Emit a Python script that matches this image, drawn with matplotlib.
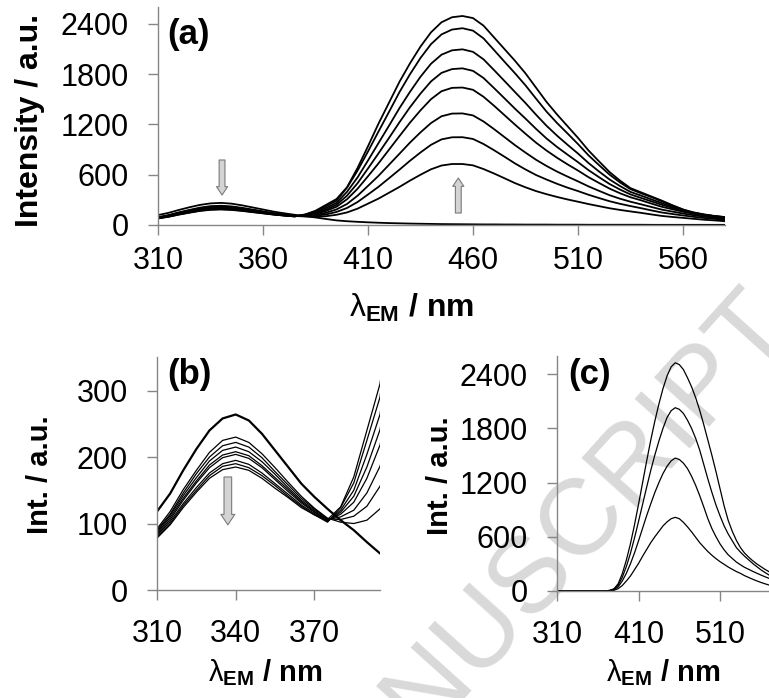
import matplotlib
matplotlib.use("Agg")
import matplotlib.pyplot as plt

plt.rcParams['font.family'] = ['Liberation Sans', 'DejaVu Sans']
plt.rcParams['mathtext.fontset'] = 'custom'
plt.rcParams['mathtext.rm'] = 'Liberation Sans'
plt.rcParams['mathtext.it'] = 'Liberation Sans'
plt.rcParams['mathtext.bf'] = 'Liberation Sans:bold'

# emission wavelengths (nm) for panels (a) and (b)
wl = list(range(310, 585, 5))

# titration spectra, panel (a) / (b): c0 = free ligand, c1..c8 = increasing additions
c0 = [118, 145, 180, 212, 240, 258, 264, 255, 235, 210, 185, 160, 140, 122,
      105, 90, 72, 55, 45, 38, 32, 27, 23, 20, 17, 15, 13, 11, 10, 9, 8, 7, 7, 6,
      6, 5, 5, 5, 4, 4, 4, 3, 3, 3, 3, 3, 3, 2, 2, 2, 2, 2, 2, 2, 2]
c1 = [92, 118, 151, 180, 207, 225, 230, 222, 205, 184, 162, 141, 123, 108,
      102, 100, 105, 122, 150, 195, 255, 315, 385, 455, 530, 600, 665, 710, 728,
      728, 712, 668, 615, 558, 500, 450, 405, 368, 335, 305, 278, 250, 225, 200,
      180, 162, 145, 126, 108, 96, 85, 74, 63, 55, 45]
c2 = [90, 114, 146, 175, 200, 217, 222, 215, 199, 178, 158, 138, 122, 107,
      106, 111, 126, 156, 203, 274, 364, 456, 558, 661, 767, 866, 957, 1022, 1047,
      1048, 1027, 967, 893, 815, 735, 663, 597, 543, 492, 446, 405, 361, 322, 284,
      253, 226, 201, 174, 149, 131, 114, 98, 84, 73, 60]
c3 = [88, 112, 142, 169, 194, 210, 215, 208, 193, 174, 154, 135, 120, 106,
      110, 120, 146, 186, 251, 349, 467, 587, 719, 851, 984, 1106, 1217, 1298, 1330,
      1332, 1308, 1236, 1145, 1049, 953, 864, 779, 705, 638, 578, 521, 461, 408, 356,
      314, 278, 247, 215, 183, 160, 137, 117, 100, 86, 72]
c4 = [86, 109, 138, 164, 188, 203, 208, 202, 187, 169, 151, 133, 118, 105,
      114, 132, 168, 218, 307, 432, 582, 736, 899, 1062, 1222, 1369, 1502, 1597, 1637,
      1641, 1614, 1531, 1424, 1311, 1198, 1089, 983, 889, 803, 724, 650, 571, 502, 435,
      379, 331, 295, 255, 217, 188, 158, 133, 114, 99, 82]
c5 = [84, 106, 135, 161, 184, 199, 204, 198, 184, 166, 148, 131, 117, 104,
      117, 141, 185, 241, 350, 498, 675, 855, 1039, 1227, 1406, 1569, 1714, 1816, 1861,
      1870, 1840, 1755, 1635, 1512, 1388, 1270, 1148, 1033, 932, 840, 750, 655, 571, 490,
      423, 365, 323, 282, 241, 204, 168, 142, 119, 102, 87]
c6 = [82, 103, 130, 154, 176, 190, 195, 189, 176, 160, 144, 128, 115, 103,
      120, 150, 204, 264, 396, 567, 770, 978, 1185, 1396, 1590, 1770, 1925, 2033, 2085,
      2097, 2067, 1978, 1850, 1719, 1587, 1456, 1317, 1185, 1067, 958, 853, 740, 639, 544,
      465, 395, 351, 305, 261, 217, 175, 146, 123, 106, 91]
c7 = [80, 100, 127, 150, 172, 186, 190, 184, 172, 157, 141, 126, 113, 102,
      124, 161, 225, 290, 446, 648, 878, 1116, 1350, 1587, 1800, 1994, 2159, 2275, 2333,
      2349, 2320, 2228, 2089, 1949, 1811, 1667, 1509, 1354, 1218, 1093, 966, 832, 715, 602,
      508, 428, 379, 332, 282, 233, 184, 151, 127, 108, 94]
c8 = [78, 98, 124, 147, 168, 181, 185, 180, 168, 153, 139, 124, 113, 106,
      125, 170, 240, 310, 450, 680, 940, 1210, 1460, 1710, 1930, 2130, 2300, 2420, 2480,
      2495, 2470, 2380, 2240, 2100, 1960, 1810, 1640, 1470, 1320, 1180, 1040, 890, 760, 633,
      530, 440, 390, 340, 290, 235, 185, 145, 122, 105, 95]
spectra_a = [c0, c1, c2, c3, c4, c5, c6, c7, c8]

# panel (c)
wl_c = list(range(310, 575, 5))
flat = [0] * 12
d1 = flat + [1, 3, 8, 26, 60, 110, 165, 235, 305, 385, 460, 535, 600, 660, 720, 765, 800,
             815, 800, 760, 710, 655, 595, 535, 485, 437, 395, 358, 324, 295, 265, 240, 215,
             195, 170, 150, 130, 112, 95, 80, 66]
d2 = flat + [1, 5, 15, 46, 110, 195, 300, 420, 555, 695, 835, 965, 1090, 1200, 1300, 1380,
             1440, 1471, 1455, 1415, 1355, 1270, 1170, 1055, 930, 800, 690, 600, 520, 455,
             400, 360, 320, 290, 262, 240, 218, 197, 177, 158, 140]
d3 = flat + [2, 6, 20, 64, 150, 270, 415, 585, 770, 960, 1150, 1335, 1505, 1660, 1800, 1920,
             1995, 2028, 2010, 1965, 1890, 1800, 1690, 1560, 1400, 1240, 1090, 950, 830, 720,
             630, 555, 480, 430, 385, 345, 305, 270, 235, 205, 177]
d4 = flat + [2, 8, 25, 80, 190, 340, 520, 730, 960, 1200, 1440, 1670, 1880, 2070, 2240, 2380,
             2480, 2525, 2505, 2450, 2360, 2260, 2140, 2000, 1840, 1670, 1500, 1320, 1130, 940,
             780, 660, 560, 480, 420, 375, 335, 300, 270, 240, 214]
spectra_c = [d1, d2, d3, d4]

AXCOL = '#868686'
W, H = 769, 698


def style_axes(ax, xpad, ypad):
    for s in ['top', 'right']:
        ax.spines[s].set_visible(False)
    for s in ['left', 'bottom']:
        ax.spines[s].set_color(AXCOL)
        ax.spines[s].set_linewidth(1.0)
    ax.set_facecolor('none')
    ax.tick_params(axis='both', direction='out', length=7.2, width=1.0, color=AXCOL,
                   labelsize=22, labelcolor='black')
    ax.tick_params(axis='x', pad=xpad)
    ax.tick_params(axis='y', pad=ypad)


fig = plt.figure(figsize=(W / 100, H / 100), dpi=100)

# watermark
fig.text(796 / W, 1 - 330 / H, 'ACCEPTED MANUSCRIPT', fontsize=78, color='#d9d9d9',
         rotation=48, rotation_mode='anchor', ha='right', va='baseline', zorder=-5)

# (a)
axa = fig.add_axes([158 / W, 1 - 225 / H, 567 / W, (225 - 7.2) / H])
for sp in spectra_a:
    axa.plot(wl, sp, color='black', lw=1.3)
axa.set_xlim(310, 580)
axa.set_ylim(0, 2600)
axa.set_xticks([310, 360, 410, 460, 510, 560])
axa.set_yticks([0, 600, 1200, 1800, 2400])
style_axes(axa, 8.0, 13.6)
arrow_a = 'simple,head_length=0.6,head_width=0.8,tail_width=0.42'
axa.annotate('', xy=(340.5, 358), xytext=(340.5, 776),
             arrowprops=dict(arrowstyle=arrow_a, fc='#d4d4d4', ec='#7a7a7a', lw=0.8,
                             shrinkA=0, shrinkB=0, mutation_scale=10))
axa.annotate('', xy=(453, 561), xytext=(453, 143),
             arrowprops=dict(arrowstyle=arrow_a, fc='#d4d4d4', ec='#7a7a7a', lw=0.8,
                             shrinkA=0, shrinkB=0, mutation_scale=10))
fig.text(167 / W, 1 - 18 / H, '(a)', fontsize=25, fontweight='bold', ha='left', va='top')
fig.text(30 / W, 1 - 120 / H, 'Intensity / a.u.', fontsize=23, fontweight='bold',
         rotation=90, ha='center', va='center')
fig.text(412 / W, 1 - 308 / H, r'$\lambda_{\mathbf{EM}}$ / nm', fontsize=23,
         fontweight='bold', ha='center', va='center')

# (b)
axb = fig.add_axes([157 / W, 1 - 590 / H, 223 / W, (590 - 357.3) / H])
for i, sp in enumerate(spectra_a):
    axb.plot(wl, sp, color='black', lw=1.6 if i == 0 else 0.9)
axb.set_xlim(310, 395)
axb.set_ylim(0, 350)
axb.set_xticks([310, 340, 370])
axb.set_yticks([0, 100, 200, 300])
style_axes(axb, 13.6, 13.6)
axb.annotate('', xy=(337, 98), xytext=(337, 170),
             arrowprops=dict(arrowstyle='simple,head_length=0.75,head_width=1.0,tail_width=0.55',
                             fc='#d4d4d4', ec='#7a7a7a', lw=0.8, shrinkA=0, shrinkB=0,
                             mutation_scale=10))
fig.text(167 / W, 1 - 358 / H, '(b)', fontsize=25, fontweight='bold', ha='left', va='top')
fig.text(40 / W, 1 - 475 / H, 'Int. / a.u.', fontsize=21, fontweight='bold',
         rotation=90, ha='center', va='center')
fig.text(265 / W, 1 - 673 / H, r'$\lambda_{\mathbf{EM}}$ / nm', fontsize=21,
         fontweight='bold', ha='center', va='center')

# (c)
axc = fig.add_axes([557 / W, 1 - 591 / H, 212 / W, (591 - 356) / H])
for sp in spectra_c:
    axc.plot(wl_c, sp, color='black', lw=0.9)
axc.set_xlim(310, 570)
axc.set_ylim(0, 2600)
axc.set_xticks([310, 410, 510])
axc.set_yticks([0, 600, 1200, 1800, 2400])
style_axes(axc, 13.6, 13.6)
fig.text(568 / W, 1 - 358 / H, '(c)', fontsize=25, fontweight='bold', ha='left', va='top')
fig.text(440 / W, 1 - 476 / H, 'Int. / a.u.', fontsize=21, fontweight='bold',
         rotation=90, ha='center', va='center')
fig.text(663 / W, 1 - 673 / H, r'$\lambda_{\mathbf{EM}}$ / nm', fontsize=21,
         fontweight='bold', ha='center', va='center')

fig.savefig('out.png', dpi=100)
